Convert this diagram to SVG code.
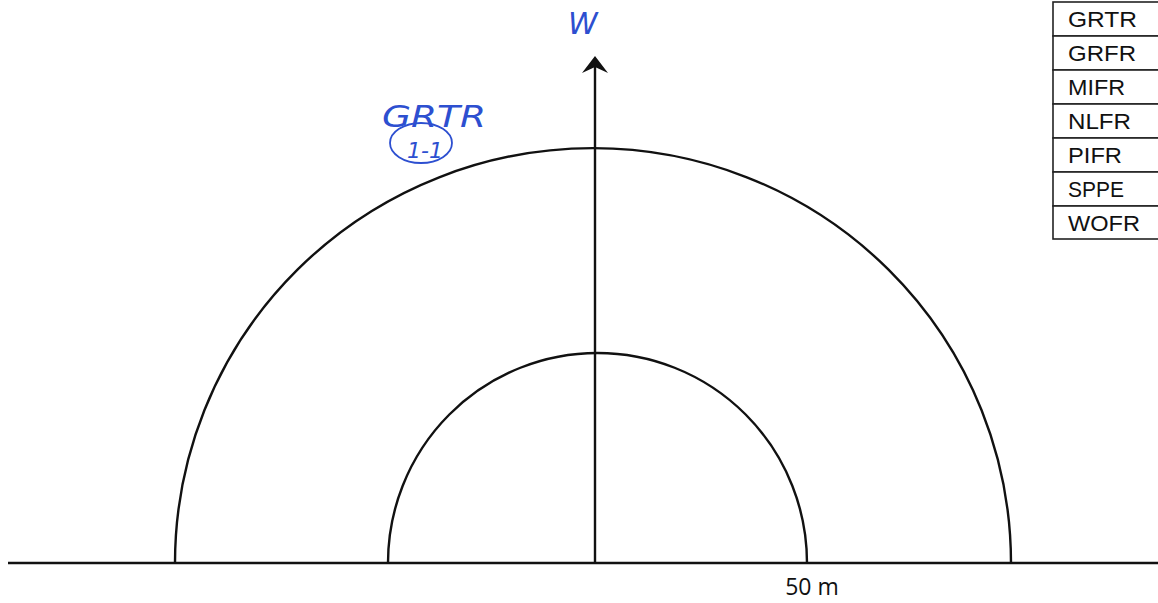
<svg xmlns="http://www.w3.org/2000/svg" width="1158" height="603" viewBox="0 0 1158 603">
<style>
.ln{fill:none;stroke:#111;stroke-width:2.4}
.cell{fill:#fff;stroke:#222;stroke-width:1.6}
.lbl{font-family:"Liberation Sans",Arial,sans-serif;font-size:22px;fill:#111}
.hand{font-family:"DejaVu Sans",sans-serif;fill:#2d4fd0;font-style:italic}
</style>
<rect width="1158" height="603" fill="#fff"/>
<g id="connectors">
<line class="ln" x1="8" y1="563" x2="1158" y2="563"/>
<path class="ln" d="M175,563 A418,415 0 0 1 1011,563"/>
<path class="ln" d="M388,563 A209.5,210 0 0 1 807,563"/>
<line class="ln" x1="595" y1="563" x2="595" y2="66"/>
<path d="M595,56 L582,73 L595,67 L608,73 Z" fill="#111"/>
</g>
<g id="axis-label">
<text class="hand" x="568" y="34" font-size="30">W</text>
</g>
<g id="annotation">
<text class="hand" x="382" y="127" font-size="30" textLength="104" lengthAdjust="spacingAndGlyphs">GRTR</text>
<ellipse cx="421" cy="143" rx="31" ry="20" fill="none" stroke="#2d4fd0" stroke-width="1.8"/>
<text class="hand" x="407" y="158" font-size="22">1-1</text>
</g>
<g id="scale">
<text x="812" y="595" text-anchor="middle" font-family="Open Sans,Liberation Sans,sans-serif" font-size="23" fill="#111">50 m</text>
</g>
<g id="legend">
<rect class="cell" x="1053" y="2" width="110" height="34"/>
<rect class="cell" x="1053" y="36" width="110" height="34"/>
<rect class="cell" x="1053" y="70" width="110" height="34"/>
<rect class="cell" x="1053" y="104" width="110" height="34"/>
<rect class="cell" x="1053" y="138" width="110" height="34"/>
<rect class="cell" x="1053" y="172" width="110" height="34"/>
<rect class="cell" x="1053" y="206" width="110" height="33"/>
<text class="lbl" x="1068" y="27" textLength="69" lengthAdjust="spacingAndGlyphs">GRTR</text>
<text class="lbl" x="1068" y="61" textLength="68" lengthAdjust="spacingAndGlyphs">GRFR</text>
<text class="lbl" x="1068" y="95" textLength="57" lengthAdjust="spacingAndGlyphs">MIFR</text>
<text class="lbl" x="1068" y="129" textLength="63" lengthAdjust="spacingAndGlyphs">NLFR</text>
<text class="lbl" x="1068" y="163" textLength="54" lengthAdjust="spacingAndGlyphs">PIFR</text>
<text class="lbl" x="1068" y="197" textLength="56" lengthAdjust="spacingAndGlyphs">SPPE</text>
<text class="lbl" x="1068" y="231" textLength="72" lengthAdjust="spacingAndGlyphs">WOFR</text>
</g>
</svg>
